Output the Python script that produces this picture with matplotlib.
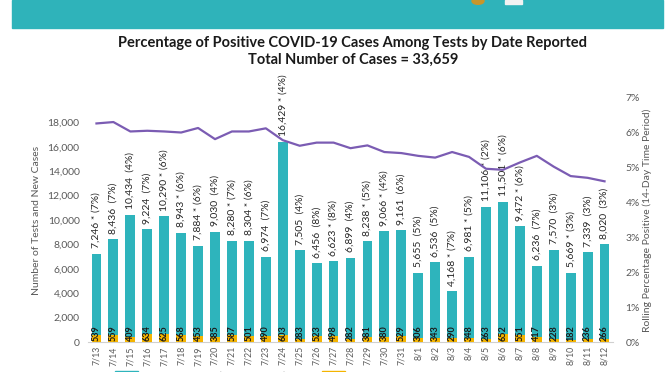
import numpy as np
import matplotlib.pyplot as plt
from matplotlib.patches import Rectangle, Circle, Patch
from matplotlib.lines import Line2D

plt.rcParams['font.family'] = ['Lato', 'DejaVu Sans']

dates = ['7/13', '7/14', '7/15', '7/16', '7/17', '7/18', '7/19', '7/20', '7/21', '7/22',
         '7/23', '7/24', '7/25', '7/26', '7/27', '7/28', '7/29', '7/30', '7/31', '8/1',
         '8/2', '8/3', '8/4', '8/5', '8/6', '8/7', '8/8', '8/9', '8/10', '8/11', '8/12']
tests = [7246, 8436, 10434, 9224, 10290, 8943, 7884, 9030, 8280, 8304,
         6974, 16429, 7505, 6456, 6623, 6899, 8238, 9066, 9161, 5655,
         6536, 4168, 6981, 11106, 11501, 9472, 6236, 7570, 5669, 7339, 8020]
new_cases = [539, 559, 409, 634, 625, 568, 453, 385, 587, 501,
             490, 603, 283, 523, 498, 282, 381, 380, 529, 306,
             343, 290, 348, 263, 652, 551, 417, 228, 182, 236, 266]
daily_pct = [7, 7, 4, 7, 6, 6, 6, 4, 7, 6,
             7, 4, 4, 8, 8, 4, 5, 4, 6, 5,
             5, 7, 5, 2, 6, 6, 7, 3, 3, 3, 3]
starred = [1, 0, 0, 0, 1, 1, 1, 0, 1, 1,
           0, 1, 0, 0, 1, 0, 1, 1, 0, 0,
           0, 1, 1, 1, 1, 1, 0, 0, 1, 0, 0]
rolling_pct = [6.27, 6.31, 6.04, 6.06, 6.04, 6.01, 6.14, 5.82, 6.04, 6.04,
               6.13, 5.79, 5.63, 5.72, 5.72, 5.56, 5.64, 5.45, 5.42, 5.34,
               5.29, 5.45, 5.31, 4.97, 4.94, 5.15, 5.34, 5.03, 4.76, 4.71, 4.61]

teal = '#2eb4bc'
gold = '#f4b400'
purple = '#7b5cb3'
grey = '#595959'

fig = plt.figure(figsize=(6.72, 3.72), dpi=100)

# header banner (cut off at the top in the original)
fig.patches.append(Rectangle((12 / 672, 1 - 28 / 372), 651 / 672, 28 / 372,
                             transform=fig.transFigure, color='#2fb3ba', zorder=0))
fig.patches.append(Circle((478 / 672, 1 - 1 / 372), 6 / 672, transform=fig.transFigure,
                          color='#c8962a', zorder=1))
fig.patches.append(Rectangle((505 / 672, 1 - 4 / 372), 17 / 672, 4 / 372,
                             transform=fig.transFigure, color='#f2f2f2', zorder=1))

fig.text(0.525, 1 - 43 / 372, 'Percentage of Positive COVID-19 Cases Among Tests by Date Reported',
         ha='center', va='center', fontsize=10.5, fontweight='bold', color='#1a1a1a')
fig.text(0.525, 1 - 60 / 372, 'Total Number of Cases = 33,659',
         ha='center', va='center', fontsize=10.5, fontweight='bold', color='#1a1a1a')

ax = fig.add_axes([88 / 672, 1 - 342 / 372, 525 / 672, 244 / 372])
x = np.arange(len(dates))
ax.bar(x, tests, width=0.58, color=teal, zorder=2)
ax.bar(x, new_cases, width=0.58, color=gold, zorder=3)

for i in range(len(dates)):
    star = ' * ' if starred[i] else '  '
    label = f'{tests[i]:,}{star}({daily_pct[i]}%)'
    ax.annotate(label, (x[i], tests[i]), xytext=(0, 4), textcoords='offset points',
                rotation=90, ha='center', va='bottom', fontsize=7.5, color='#262626')
    ax.text(x[i], 60, str(new_cases[i]), rotation=90, ha='center', va='bottom',
            fontsize=6.5, fontweight='bold', color='#1a1a1a', zorder=4)

ax.set_xlim(-0.5, len(dates) - 0.5)
ax.set_ylim(0, 20000)
ax.set_yticks(np.arange(0, 18001, 2000))
ax.set_yticklabels([f'{v:,}' for v in range(0, 18001, 2000)])
ax.set_xticks(x)
ax.set_xticklabels(dates, rotation=90, fontsize=6.3, color=grey)
ax.tick_params(axis='y', length=0, labelsize=7.5, labelcolor=grey, pad=6)
ax.tick_params(axis='x', length=0, pad=3)
for s in ['top', 'left', 'right']:
    ax.spines[s].set_visible(False)
ax.spines['bottom'].set_color('#d0d0d0')
ax.set_ylabel('Number of Tests and New Cases', fontsize=7.5, color=grey, labelpad=5)

ax2 = ax.twinx()
ax2.plot(x, rolling_pct, color=purple, linewidth=1.6, zorder=5)
ax2.set_ylim(0, 7)
ax2.set_yticks(range(0, 8))
ax2.set_yticklabels([f'{v}%' for v in range(0, 8)])
ax2.tick_params(axis='y', length=0, labelsize=7.5, labelcolor=grey, pad=9)
for s in ['top', 'left', 'right', 'bottom']:
    ax2.spines[s].set_visible(False)
ax2.set_ylabel('Rolling Percentage Positive (14-Day Time Period)', fontsize=7.5,
               color=grey, labelpad=2)

handles = [Patch(color=teal), Patch(color=gold), Line2D([0], [0], color=purple, lw=1.6)]
labels = ['Reported Tests (% New Cases)', 'New Cases', 'Rolling Percentage']
fig.legend(handles, labels, loc='center', bbox_to_anchor=(0.5, -4 / 372), ncol=3,
           frameon=False, fontsize=7.5, columnspacing=3.5, handlelength=2.2,
           labelcolor=grey)

fig.savefig('out.png', dpi=100)
